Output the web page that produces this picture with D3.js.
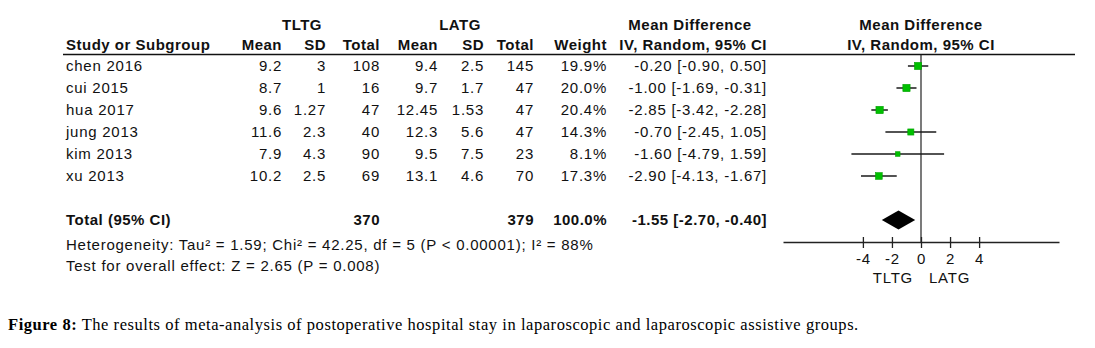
<!DOCTYPE html>
<html>
<head>
<meta charset="utf-8">
<title>Forest plot - hospital stay</title>
<script src="https://d3js.org/d3.v7.min.js"></script>
<style>
    body { margin: 0; background: #fff; }
    svg text { font-family: "Liberation Sans", Arial, sans-serif; font-size: 15px; letter-spacing: 0.75px; fill: #111; }
    .hdr { font-weight: bold; letter-spacing: 0.5px; }
    .caption { font-family: "Liberation Serif", "Times New Roman", serif; font-size: 16.5px; letter-spacing: 0.55px; fill: #000; }
</style>
</head>
<body>
<svg width="1095" height="348"></svg>
<script>
    // study data
    var studies  = ["chen 2016", "cui 2015", "hua 2017", "jung 2013", "kim 2013", "xu 2013"];
    var tltgMean = [9.2, 8.7, 9.6, 11.6, 7.9, 10.2];
    var tltgSD   = [3, 1, 1.27, 2.3, 4.3, 2.5];
    var tltgN    = [108, 16, 47, 40, 90, 69];
    var latgMean = [9.4, 9.7, 12.45, 12.3, 9.5, 13.1];
    var latgSD   = [2.5, 1.7, 1.53, 5.6, 7.5, 4.6];
    var latgN    = [145, 47, 47, 47, 23, 70];
    var weights  = [19.9, 20.0, 20.4, 14.3, 8.1, 17.3];
    var md       = [-0.20, -1.00, -2.85, -0.70, -1.60, -2.90];
    var ciLow    = [-0.90, -1.69, -3.42, -2.45, -4.79, -4.13];
    var ciHigh   = [0.50, -0.31, -2.28, 1.05, 1.59, -1.67];

    var totalN    = [370, 379];
    var totalMD   = [-1.55, -2.70, -0.40];   // estimate, low, high
    var axisTicks = [-4, -2, 0, 2, 4];
    var hetText   = "Heterogeneity: Tau\u00b2 = 1.59; Chi\u00b2 = 42.25, df = 5 (P < 0.00001); I\u00b2 = 88%";
    var testText  = "Test for overall effect: Z = 2.65 (P = 0.008)";

    var svg = d3.select("svg");

    // rows: 0..5 studies, 7 = total
    var rowY = d3.scaleLinear().domain([0, 7]).range([66, 220]);
    var x = d3.scaleLinear().domain([-9.5, 9.5]).range([783, 1059]);
    var size = d3.scaleSqrt().domain([0, 20.4]).range([0, 7.3]);
    var base = 5; // text baseline offset from row centre

    var fmt2 = function (v) { return v.toFixed(2); };
    var ciStr = function (m, lo, hi) { return fmt2(m) + " [" + fmt2(lo) + ", " + fmt2(hi) + "]"; };

    // column right edges
    var cols = [
        {x: 282, head: "Mean",   val: function (i) { return tltgMean[i]; }},
        {x: 326, head: "SD",     val: function (i) { return tltgSD[i]; }},
        {x: 380, head: "Total",  val: function (i) { return tltgN[i]; }},
        {x: 438, head: "Mean",   val: function (i) { return latgMean[i]; }},
        {x: 484, head: "SD",     val: function (i) { return latgSD[i]; }},
        {x: 534, head: "Total",  val: function (i) { return latgN[i]; }},
        {x: 607, head: "Weight", val: function (i) { return weights[i].toFixed(1) + "%"; }},
        {x: 767, head: "IV, Random, 95% CI", val: function (i) { return ciStr(md[i], ciLow[i], ciHigh[i]); }}
    ];

    // header
    var head = svg.append("g").attr("class", "header");
    head.append("text").attr("class", "hdr").attr("x", 302).attr("y", 30).attr("text-anchor", "middle").text("TLTG");
    head.append("text").attr("class", "hdr").attr("x", 460).attr("y", 30).attr("text-anchor", "middle").text("LATG");
    head.append("text").attr("class", "hdr").attr("x", 690).attr("y", 30).attr("text-anchor", "middle").text("Mean Difference");
    head.append("text").attr("class", "hdr").attr("x", x(0)).attr("y", 30).attr("text-anchor", "middle").text("Mean Difference");
    head.append("text").attr("class", "hdr").attr("x", x(0)).attr("y", 50).attr("text-anchor", "middle").text("IV, Random, 95% CI");
    head.append("text").attr("class", "hdr").attr("x", 66).attr("y", 50).text("Study or Subgroup");
    head.selectAll("text.colh")
        .data(cols)
        .enter().append("text")
        .attr("class", "hdr colh")
        .attr("x", function (d) { return d.x; })
        .attr("y", 50)
        .attr("text-anchor", "end")
        .text(function (d) { return d.head; });
    head.append("line")
        .attr("x1", 63).attr("x2", 1075).attr("y1", 54.5).attr("y2", 54.5)
        .style("stroke", "#111").style("stroke-width", 1.3);

    // study rows
    var rows = svg.append("g").selectAll("g")
        .data(studies)
        .enter().append("g");
    rows.append("text")
        .attr("x", 66)
        .attr("y", function (d, i) { return rowY(i) + base; })
        .text(function (d) { return d; });
    cols.forEach(function (c) {
        rows.append("text")
            .attr("x", c.x)
            .attr("y", function (d, i) { return rowY(i) + base; })
            .attr("text-anchor", "end")
            .text(function (d, i) { return c.val(i); });
    });

    // total row
    var tot = svg.append("g");
    tot.append("text").attr("class", "hdr").attr("x", 66).attr("y", rowY(7) + base).text("Total (95% CI)");
    tot.append("text").attr("class", "hdr").attr("x", cols[2].x).attr("y", rowY(7) + base).attr("text-anchor", "end").text(totalN[0]);
    tot.append("text").attr("class", "hdr").attr("x", cols[5].x).attr("y", rowY(7) + base).attr("text-anchor", "end").text(totalN[1]);
    tot.append("text").attr("class", "hdr").attr("x", cols[6].x).attr("y", rowY(7) + base).attr("text-anchor", "end").text("100.0%");
    tot.append("text").attr("class", "hdr").attr("x", cols[7].x).attr("y", rowY(7) + base).attr("text-anchor", "end")
        .text(ciStr(totalMD[0], totalMD[1], totalMD[2]));
    tot.append("text").attr("x", 66).attr("y", 250).text(hetText);
    tot.append("text").attr("x", 66).attr("y", 271).text(testText);

    // forest plot
    var plot = svg.append("g");
    var axisY = 242;

    plot.append("line")
        .attr("x1", x(0)).attr("x2", x(0))
        .attr("y1", 54.5).attr("y2", axisY)
        .style("stroke", "#222").style("stroke-width", 1.2);

    plot.selectAll("line.ci")
        .data(studies)
        .enter().append("line")
        .attr("class", "ci")
        .attr("x1", function (d, i) { return x(ciLow[i]); })
        .attr("x2", function (d, i) { return x(ciHigh[i]); })
        .attr("y1", function (d, i) { return rowY(i); })
        .attr("y2", function (d, i) { return rowY(i); })
        .style("stroke", "#1a1a1a").style("stroke-width", 1.5);

    plot.selectAll("rect.box")
        .data(studies)
        .enter().append("rect")
        .attr("class", "box")
        .attr("x", function (d, i) { return x(md[i]) - size(weights[i]) / 2; })
        .attr("y", function (d, i) { return rowY(i) - size(weights[i]) / 2; })
        .attr("width", function (d, i) { return size(weights[i]); })
        .attr("height", function (d, i) { return size(weights[i]); })
        .style("fill", "#00c000")
        .style("stroke", "#00a000")
        .style("stroke-width", 0.6);

    var dy = 9.5, cy = rowY(7);
    plot.append("path")
        .attr("d", "M" + x(totalMD[1]) + "," + cy +
                   "L" + x(totalMD[0]) + "," + (cy - dy) +
                   "L" + x(totalMD[2]) + "," + cy +
                   "L" + x(totalMD[0]) + "," + (cy + dy) + "Z")
        .style("fill", "#000");

    var ax = plot.append("g")
        .attr("transform", "translate(0," + axisY + ")")
        .call(d3.axisBottom(x).tickValues(axisTicks).tickSize(6).tickSizeOuter(0).tickPadding(5)
            .tickFormat(function (d) { return String(d); }));
    ax.attr("font-size", null).attr("font-family", null);
    ax.select(".domain").style("stroke", "#222").style("stroke-width", 1.3);
    ax.selectAll(".tick line").attr("y1", -5).style("stroke", "#222").style("stroke-width", 1.3);
    ax.selectAll(".tick text").style("fill", "#111");

    plot.append("text").attr("x", x(0) - 8).attr("y", 283).attr("text-anchor", "end").text("TLTG");
    plot.append("text").attr("x", x(0) + 8).attr("y", 283).attr("text-anchor", "start").text("LATG");

    // caption
    var cap = svg.append("text").attr("class", "caption").attr("x", 8).attr("y", 330);
    cap.append("tspan").style("font-weight", "bold").text("Figure 8:");
    cap.append("tspan").text(" The results of meta-analysis of postoperative hospital stay in laparoscopic and laparoscopic assistive groups.");
</script>
</body>
</html>
